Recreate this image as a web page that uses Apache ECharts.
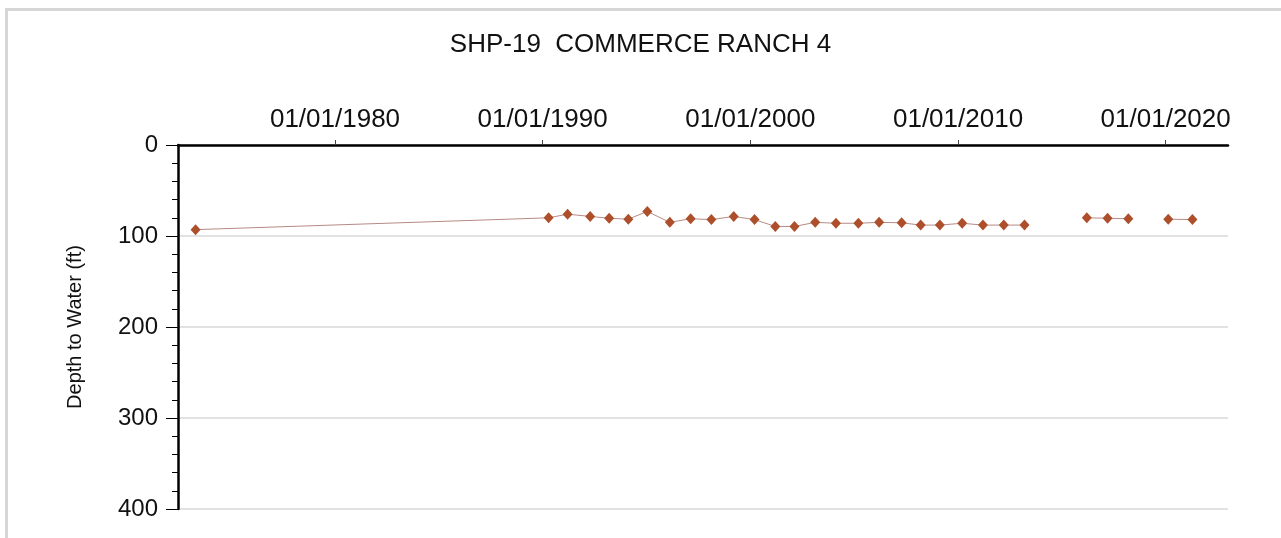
<!DOCTYPE html>
<html>
<head>
<meta charset="utf-8">
<script src="https://cdn.jsdelivr.net/npm/echarts@6/dist/echarts.min.js"></script>
<style>
	html, body { margin: 0; padding: 0; background: #fff; }
	#chart { width: 1281px; height: 538px; }
	.frame {
		position: absolute; left: 5px; top: 8px; right: 0; bottom: 0;
		border-left: 3px solid #d6d6d6; border-top: 3px solid #d6d6d6;
		pointer-events: none;
	}
</style>
</head>
<body>
<div id="chart"></div>
<div class="frame"></div>
<script>
const titleText = 'SHP-19  COMMERCE RANCH 4'
const axisName = 'Depth to Water (ft)'
const tickYears = [1980, 1990, 2000, 2010, 2020]
const depthTicks = [0, 100, 200, 300, 400]

// measurement dates and depth (ft); null marks a break in the line
const dates = [
	'1973-04-15', '1990-04-15', '1991-03-15', '1992-04-15', '1993-03-15',
	'1994-02-15', '1995-01-15', '1996-02-15', '1997-02-15', '1998-02-15',
	'1999-03-15', '2000-03-15', '2001-03-15', '2002-02-15', '2003-02-15',
	'2004-02-15', '2005-03-15', '2006-03-15', '2007-04-15', '2008-03-15',
	'2009-02-15', '2010-03-15', '2011-03-15', '2012-03-15', '2013-03-15',
	'2014-09-01', '2016-03-15', '2017-03-15', '2018-03-15', '2019-03-01',
	'2020-02-15', '2021-04-15'
]
const depths = [
	93, 80, 76, 78.5, 80.5,
	81.5, 73, 85, 81, 82,
	78.5, 82, 89.5, 89.5, 85,
	86, 86, 85, 85.5, 88,
	88, 86, 88, 88, 88,
	null, 80, 80.5, 81, null,
	81.5, 82
]

const pad = (n) => (n < 10 ? '0' : '') + n
const toTime = (s) => +new Date(s + 'T00:00:00')
const chart = echarts.init(document.getElementById('chart'))
const tickValues = tickYears.map((y) => +new Date(y, 0, 1))

const option = {
	animation: false,
	title: {
		text: titleText,
		left: 'center',
		top: 27,
		textStyle: { fontFamily: 'Liberation Sans', fontSize: 26, fontWeight: 'normal', color: '#111' }
	},
	grid: { left: 178, right: 53, top: 145, bottom: 29 },
	xAxis: {
		type: 'value',
		position: 'top',
		min: +new Date(1972, 5, 10),
		max: +new Date(2023, 0, 1),
		axisLine: { lineStyle: { color: '#000', width: 2.5 } },
		axisTick: { show: true, length: 5, customValues: tickValues, lineStyle: { color: '#444' } },
		axisLabel: {
			customValues: tickValues,
			margin: 12,
			fontFamily: 'Liberation Sans',
			fontSize: 26,
			color: '#111',
			formatter: (v) => {
				const d = new Date(v)
				return pad(d.getMonth() + 1) + '/' + pad(d.getDate()) + '/' + d.getFullYear()
			}
		},
		splitLine: { show: false }
	},
	yAxis: {
		type: 'value',
		inverse: true,
		min: depthTicks[0],
		max: depthTicks[depthTicks.length - 1],
		interval: 100,
		name: axisName,
		nameLocation: 'middle',
		nameGap: 93,
		nameTextStyle: { fontFamily: 'Liberation Sans', fontSize: 20, color: '#111' },
		axisLine: { show: true, lineStyle: { color: '#000', width: 2.5 } },
		axisTick: { show: true, length: 12, lineStyle: { color: '#000' } },
		minorTick: { show: true, splitNumber: 5, length: 6, lineStyle: { color: '#000' } },
		axisLabel: { margin: 20, fontFamily: 'Liberation Sans', fontSize: 24, color: '#111' },
		splitLine: { show: true, lineStyle: { color: '#d9d9d9', width: 1.5 } }
	},
	series: [{
		type: 'line',
		data: dates.map((d, i) => [toTime(d), depths[i]]),
		connectNulls: false,
		symbol: 'diamond',
		symbolSize: [10, 11],
		itemStyle: { color: '#ad4f2a' },
		lineStyle: { color: '#b58a86', width: 1 }
	}]
}
chart.setOption(option)
</script>
</body>
</html>
